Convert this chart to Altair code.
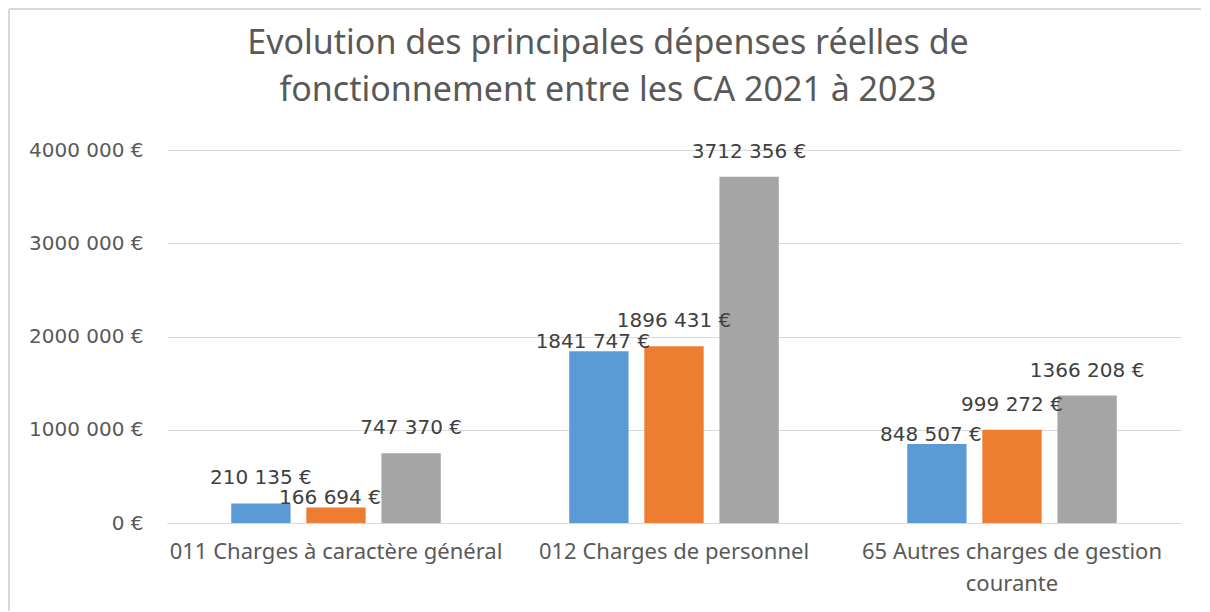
import altair as alt
import pandas as pd

categories = [
    "011 Charges à caractère général",
    "012 Charges de personnel",
    "65 Autres charges de gestion courante",
]
series = ["CA 2021", "CA 2022", "CA 2023"]
values_2021 = [210135, 1841747, 848507]
values_2022 = [166694, 1896431, 999272]
values_2023 = [747370, 3712356, 1366208]
colors = ["#5B9BD5", "#ED7D31", "#A5A5A5"]

# data labels that Excel nudged down to avoid collisions (annotation style)
lowered = {
    ("011 Charges à caractère général", "CA 2022"),
    ("012 Charges de personnel", "CA 2021"),
    ("65 Autres charges de gestion courante", "CA 2021"),
}

rows = []
for s, vals in zip(series, [values_2021, values_2022, values_2023]):
    for c, v in zip(categories, vals):
        rows.append({
            "categorie": c,
            "serie": s,
            "montant": v,
            "label": f"{v // 1000} {v % 1000:03d} €",
            "bas": (c, s) in lowered,
        })
df = pd.DataFrame(rows)

FONT = "Noto Sans"
NUMFONT = "DejaVu Sans"
GREY = "#595959"

label_expr = (
    "datum.value == '65 Autres charges de gestion courante' ? "
    "['65 Autres charges de gestion', 'courante'] : datum.value"
)
y_label_expr = (
    "datum.value >= 1000 ? slice(format(datum.value, 'd'), 0, -3) + ' ' + "
    "slice(format(datum.value, 'd'), -3) + ' €' : format(datum.value, 'd') + ' €'"
)

x_enc = alt.X(
    "categorie:N",
    sort=categories,
    title=None,
    scale=alt.Scale(paddingInner=0.38, paddingOuter=0.19),
    axis=alt.Axis(
        labelAngle=0,
        labelExpr=label_expr,
        labelFont=FONT,
        labelFontSize=22,
        labelColor=GREY,
        labelPadding=18,
        labelLineHeight=32,
        ticks=False,
        grid=False,
        domain=True,
        domainColor="#D9D9D9",
        labelLimit=500,
    ),
)
xo_enc = alt.XOffset("serie:N", sort=series, scale=alt.Scale(paddingInner=0.21))
y_enc = alt.Y(
    "montant:Q",
    title=None,
    scale=alt.Scale(domain=[0, 4000000]),
    axis=alt.Axis(
        values=[0, 1000000, 2000000, 3000000, 4000000],
        labelExpr=y_label_expr,
        labelFont=NUMFONT,
        labelFontSize=20,
        labelColor=GREY,
        labelPadding=24,
        ticks=False,
        domain=False,
        grid=True,
        gridColor="#D9D9D9",
        gridWidth=1,
    ),
)

base = alt.Chart(df)

bars = base.mark_bar().encode(
    x=x_enc,
    xOffset=xo_enc,
    y=y_enc,
    color=alt.Color("serie:N", sort=series, scale=alt.Scale(domain=series, range=colors), legend=None),
)

text_high = base.transform_filter("!datum.bas").mark_text(
    baseline="middle", dy=-25, font=NUMFONT, fontSize=20, color="#404040"
).encode(x=x_enc, xOffset=xo_enc, y=y_enc, text="label:N")

text_low = base.transform_filter("datum.bas").mark_text(
    baseline="middle", dy=-9, dx=-6, font=NUMFONT, fontSize=20, color="#404040"
).encode(x=x_enc, xOffset=xo_enc, y=y_enc, text="label:N")

# light grey chart frame (top and left edges)
frame_top = alt.Chart(df).mark_rule(color="#D9D9D9", strokeWidth=2, clip=False).encode(
    x=alt.value(-158), x2=alt.value(1040), y=alt.value(-141)
)
frame_left = alt.Chart(df).mark_rule(color="#D9D9D9", strokeWidth=2, clip=False).encode(
    x=alt.value(-158), y=alt.value(-141), y2=alt.value(461)
)

chart = (
    alt.layer(frame_top, frame_left, bars, text_high, text_low)
    .properties(
        width=1014,
        height=373,
        background="white",
        title=alt.TitleParams(
            text=["Evolution des principales dépenses réelles de",
                  "fonctionnement entre les CA 2021 à 2023"],
            font=FONT,
            fontSize=34,
            fontWeight="normal",
            color=GREY,
            lineHeight=47,
            anchor="middle",
            frame="group",
            dx=-66,
            offset=-100,
        ),
        autosize=alt.AutoSizeParams(type="none"),
        padding={"left": 159, "top": 142, "right": 20, "bottom": 88},
    )
    .configure_view(strokeWidth=0, stroke="transparent")
)

chart.save("out.html", embed_options={"renderer": "svg", "actions": False})
